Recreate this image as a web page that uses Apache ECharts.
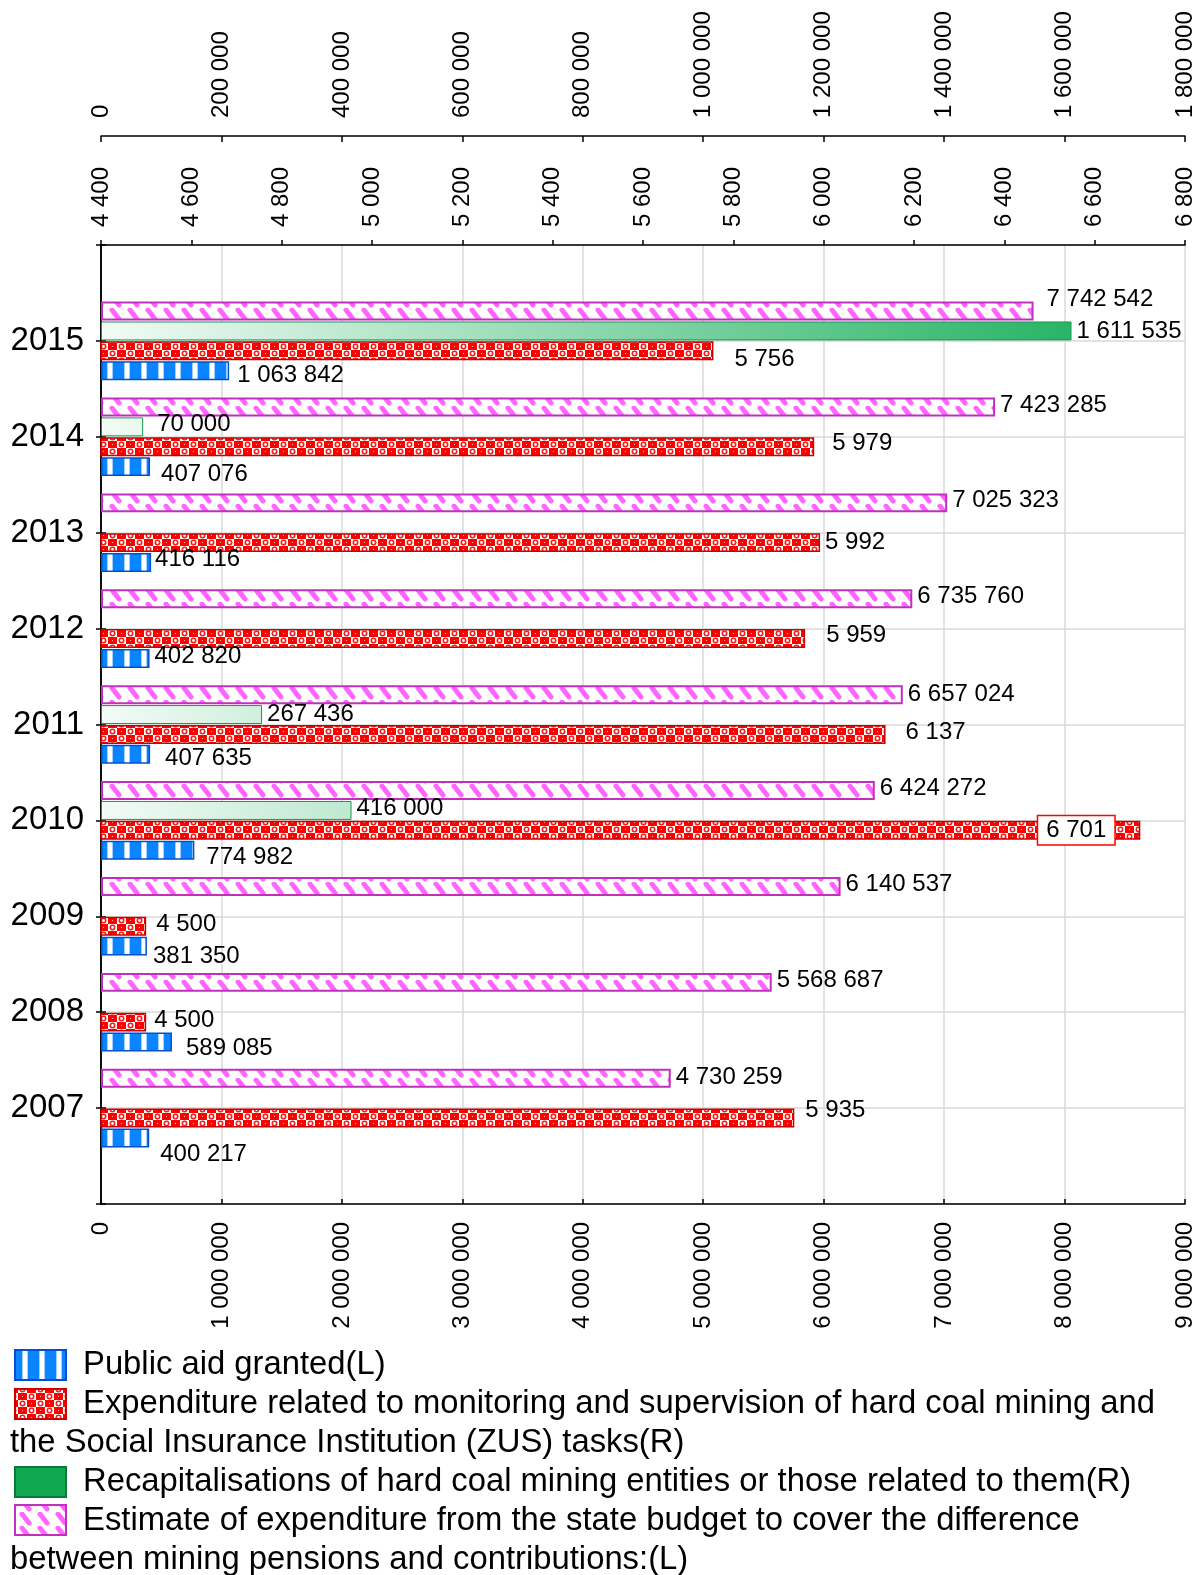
<!DOCTYPE html>
<html>
<head>
<meta charset="utf-8">
<title>Public aid for hard coal mining 2007-2015</title>
<script src="https://cdn.jsdelivr.net/npm/echarts@6/dist/echarts.min.js"></script>
<style>
html, body { margin: 0; padding: 0; background: #fff; }
#chart { width: 1202px; height: 1575px; }
</style>
</head>
<body>
<div id="chart"></div>
<script>
// values, 2007 -> 2015
var years = ['2007', '2008', '2009', '2010', '2011', '2012', '2013', '2014', '2015']
var publicAid = [400217, 589085, 381350, 774982, 407635, 402820, 416116, 407076, 1063842]
var expenditure = [5935, 4500, 4500, 6701, 6137, 5959, 5992, 5979, 5756]
var recapitalisation = [null, null, null, 416000, 267436, null, null, 70000, 1611535]
var pensionGap = [4730259, 5568687, 6140537, 6424272, 6657024, 6735760, 7025323, 7423285, 7742542]

// axis ranges (tick labels come from these)
var leftAxisRange = [0, 9000000, 1000000]
var expAxisRange = [4400, 6800, 200]
var recapAxisRange = [0, 1800000, 200000]

var names = [
  'Public aid granted(L)',
  'Expenditure related to monitoring and supervision of hard coal mining and the Social Insurance Institution (ZUS) tasks(R)',
  'Recapitalisations of hard coal mining entities or those related to them(R)',
  'Estimate of expenditure from the state budget to cover the difference between mining pensions and contributions:(L)'
]

// label nudges [dx, dy], same year order
var aidNudge = [[6, 16], [9, 6], [1, 10], [7, 7], [10, 4], [0, -2], [-1, -3], [6, 8], [3, 5]]
var expNudge = [[6, -8], [3, -2], [5, -2], null, [15, -2], [16, -3], [0, 0], [13, -3], [16, 9]]
var recapNudge = [null, null, null, [0, -2], [0, 0], null, null, [9, -2], [0, 0]]
var gapNudge = [[0, -1], [0, -2], [0, -2], [0, -2], [0, 0], [0, -2], [0, -2], [0, -2], [8, -12]]

var FONT = '"Liberation Sans", Arial, sans-serif'

function fmt(v) {
  return String(v).replace(/\B(?=(\d{3})+(?!\d))/g, ' ')
}

function makePattern(w, h, draw) {
  var c = document.createElement('canvas')
  c.width = w
  c.height = h
  draw(c.getContext('2d'))
  return { image: c, repeat: 'repeat' }
}

var bluePattern = makePattern(17, 4, function(ctx) {
  ctx.fillStyle = '#0a84ff'
  ctx.fillRect(0, 0, 17, 4)
  ctx.fillStyle = '#9fd0ff'
  ctx.fillRect(5, 0, 1, 4)
  ctx.fillRect(10, 0, 1, 4)
  ctx.fillStyle = '#ffffff'
  ctx.fillRect(6, 0, 4, 4)
})

// checker of white cells with small red rings
var redPattern = makePattern(18, 14, function(ctx) {
  ctx.fillStyle = '#ff0000'
  ctx.fillRect(0, 0, 18, 14)
  ctx.fillStyle = '#ffffff'
  ctx.fillRect(0, 0, 9, 7)
  ctx.fillRect(9, 7, 9, 7)
  ctx.strokeStyle = '#ff1a1a'
  ctx.lineWidth = 1.6
  ctx.beginPath()
  ctx.arc(4.5, 3.5, 2.2, 0, Math.PI * 2)
  ctx.stroke()
  ctx.beginPath()
  ctx.arc(13.5, 10.5, 2.2, 0, Math.PI * 2)
  ctx.stroke()
  ctx.fillStyle = '#ffb0b0'
  ctx.fillRect(13, 3, 1, 1)
  ctx.fillRect(4, 10, 1, 1)
})

var pinkPattern = makePattern(18, 14, function(ctx) {
  ctx.fillStyle = '#ffffff'
  ctx.fillRect(0, 0, 18, 14)
  ctx.strokeStyle = '#ff66ff'
  ctx.lineWidth = 5
  ctx.lineCap = 'round'
  ctx.beginPath()
  ctx.moveTo(4, 2)
  ctx.lineTo(11, 11)
  ctx.stroke()
})

var greenFill = new echarts.graphic.LinearGradient(101, 0, 1185, 0, [
  { offset: 0, color: '#f2fbf5' },
  { offset: 1, color: '#12ac56' }
], true)

// pad with an empty slot at each end so the years sit one band in from the frame
function pad(arr) {
  return [null].concat(arr, [null])
}

function items(values, nudges) {
  return pad(values).map(function(v, i) {
    var n = i > 0 && i <= years.length ? nudges[i - 1] : null
    if (v === null) return { value: null }
    return { value: v, label: { offset: n || [0, 0] } }
  })
}

var expItems = items(expenditure, expNudge)
// 2010 value sits in a white box inside the bar
expItems[4].label = {
  position: 'insideRight',
  offset: [-21, 0],
  backgroundColor: '#fff',
  borderColor: '#ff0000',
  borderWidth: 1.5,
  padding: [2, 8]
}

var barLabel = {
  show: true,
  position: 'right',
  distance: 5,
  color: '#000',
  fontSize: 24,
  fontFamily: FONT,
  formatter: function(p) { return fmt(p.value) }
}

function valueAxis(range, extra) {
  var ax = {
    type: 'value',
    min: range[0],
    max: range[1],
    interval: range[2],
    axisLine: { show: true, onZero: false, lineStyle: { color: '#000', width: 1.5 } },
    axisTick: { show: true, length: 5, lineStyle: { color: '#000', width: 1.5 } },
    axisLabel: {
      rotate: 90,
      margin: 18,
      color: '#000',
      fontSize: 24,
      fontFamily: FONT,
      formatter: fmt
    },
    splitLine: { show: false }
  }
  return Object.assign(ax, extra)
}

var topLabel = { rotate: -90, margin: 18, color: '#000', fontSize: 24, fontFamily: FONT, formatter: fmt }

var chart = echarts.init(document.getElementById('chart'), null, { renderer: 'canvas' })

var legendFont = '32.8px ' + FONT
var catData = pad(years).map(function(y) { return y || '' })
var option = {
  animation: false,
  backgroundColor: '#fff',
  grid: { left: 101, top: 245, width: 1084, height: 959, containLabel: false },
  xAxis: [
    valueAxis(leftAxisRange, {
      position: 'bottom',
      axisTick: { show: true, inside: true, length: 5, lineStyle: { color: '#000', width: 1.5 } },
      splitLine: { show: true, lineStyle: { color: '#d9d9d9', width: 1.5 } }
    }),
    valueAxis(expAxisRange, { position: 'top', axisLabel: topLabel }),
    valueAxis(recapAxisRange, {
      position: 'top',
      offset: 109,
      axisLabel: topLabel,
      axisTick: { show: true, inside: true, length: 6, lineStyle: { color: '#000', width: 1.5 } }
    })
  ],
  yAxis: [
    {
      type: 'category',
      data: catData,
      boundaryGap: false,
      axisLine: { show: true, lineStyle: { color: '#000', width: 1.5 } },
      axisTick: { show: true, inside: true, length: 5, lineStyle: { color: '#000', width: 1.5 } },
      axisLabel: { color: '#000', fontSize: 33, fontFamily: FONT, margin: 17 },
      splitLine: { show: true, lineStyle: { color: '#d9d9d9', width: 1.5 } }
    },
    {
      type: 'category',
      position: 'right',
      data: catData,
      boundaryGap: false,
      axisLine: { show: true, lineStyle: { color: '#000', width: 1.5 } },
      axisTick: { show: true, inside: true, length: 5, lineStyle: { color: '#000', width: 1.5 } },
      axisLabel: { show: false },
      splitLine: { show: false }
    }
  ],
  // first series is drawn at the top of each year group
  series: [
    {
      name: names[3],
      type: 'bar',
      xAxisIndex: 0,
      yAxisIndex: 0,
      barGap: '5%',
      barCategoryGap: '18%',
      itemStyle: { color: pinkPattern, borderColor: '#c030c0', borderWidth: 2 },
      label: barLabel,
      data: items(pensionGap, gapNudge)
    },
    {
      name: names[2],
      type: 'bar',
      xAxisIndex: 2,
      yAxisIndex: 0,
      barGap: '5%',
      barCategoryGap: '18%',
      itemStyle: { color: greenFill, borderColor: '#169a48', borderWidth: 1 },
      label: barLabel,
      data: items(recapitalisation, recapNudge)
    },
    {
      name: names[1],
      type: 'bar',
      xAxisIndex: 1,
      yAxisIndex: 0,
      barGap: '5%',
      barCategoryGap: '18%',
      itemStyle: { color: redPattern, borderColor: '#cc0000', borderWidth: 1.5 },
      label: barLabel,
      data: expItems
    },
    {
      name: names[0],
      type: 'bar',
      xAxisIndex: 0,
      yAxisIndex: 0,
      barGap: '5%',
      barCategoryGap: '18%',
      itemStyle: { color: bluePattern, borderColor: '#0050d0', borderWidth: 1.5 },
      label: barLabel,
      data: items(publicAid, aidNudge)
    }
  ],
  graphic: {
    elements: [
      { type: 'rect', shape: { x: 15, y: 1350, width: 51, height: 30 },
        style: { fill: bluePattern, stroke: '#0050d0', lineWidth: 2 } },
      { type: 'text', x: 83, y: 1365,
        style: { text: 'Public aid granted(L)', font: legendFont, fill: '#000', verticalAlign: 'middle' } },
      { type: 'rect', shape: { x: 15, y: 1389, width: 51, height: 30 },
        style: { fill: redPattern, stroke: '#cc0000', lineWidth: 2 } },
      { type: 'text', x: 83, y: 1404,
        style: { text: 'Expenditure related to monitoring and supervision of hard coal mining and', font: legendFont, fill: '#000', verticalAlign: 'middle' } },
      { type: 'text', x: 10, y: 1443,
        style: { text: 'the Social Insurance Institution (ZUS) tasks(R)', font: legendFont, fill: '#000', verticalAlign: 'middle' } },
      { type: 'rect', shape: { x: 15, y: 1467, width: 51, height: 30 },
        style: { fill: '#10a850', stroke: '#0b7a38', lineWidth: 2 } },
      { type: 'text', x: 83, y: 1482,
        style: { text: 'Recapitalisations of hard coal mining entities or those related to them(R)', font: legendFont, fill: '#000', verticalAlign: 'middle' } },
      { type: 'rect', shape: { x: 15, y: 1505, width: 51, height: 30 },
        style: { fill: pinkPattern, stroke: '#c030c0', lineWidth: 2 } },
      { type: 'text', x: 83, y: 1521,
        style: { text: 'Estimate of expenditure from the state budget to cover the difference', font: legendFont, fill: '#000', verticalAlign: 'middle' } },
      { type: 'text', x: 10, y: 1560,
        style: { text: 'between mining pensions and contributions:(L)', font: legendFont, fill: '#000', verticalAlign: 'middle' } }
    ]
  }
}

chart.setOption(option)
</script>
</body>
</html>
